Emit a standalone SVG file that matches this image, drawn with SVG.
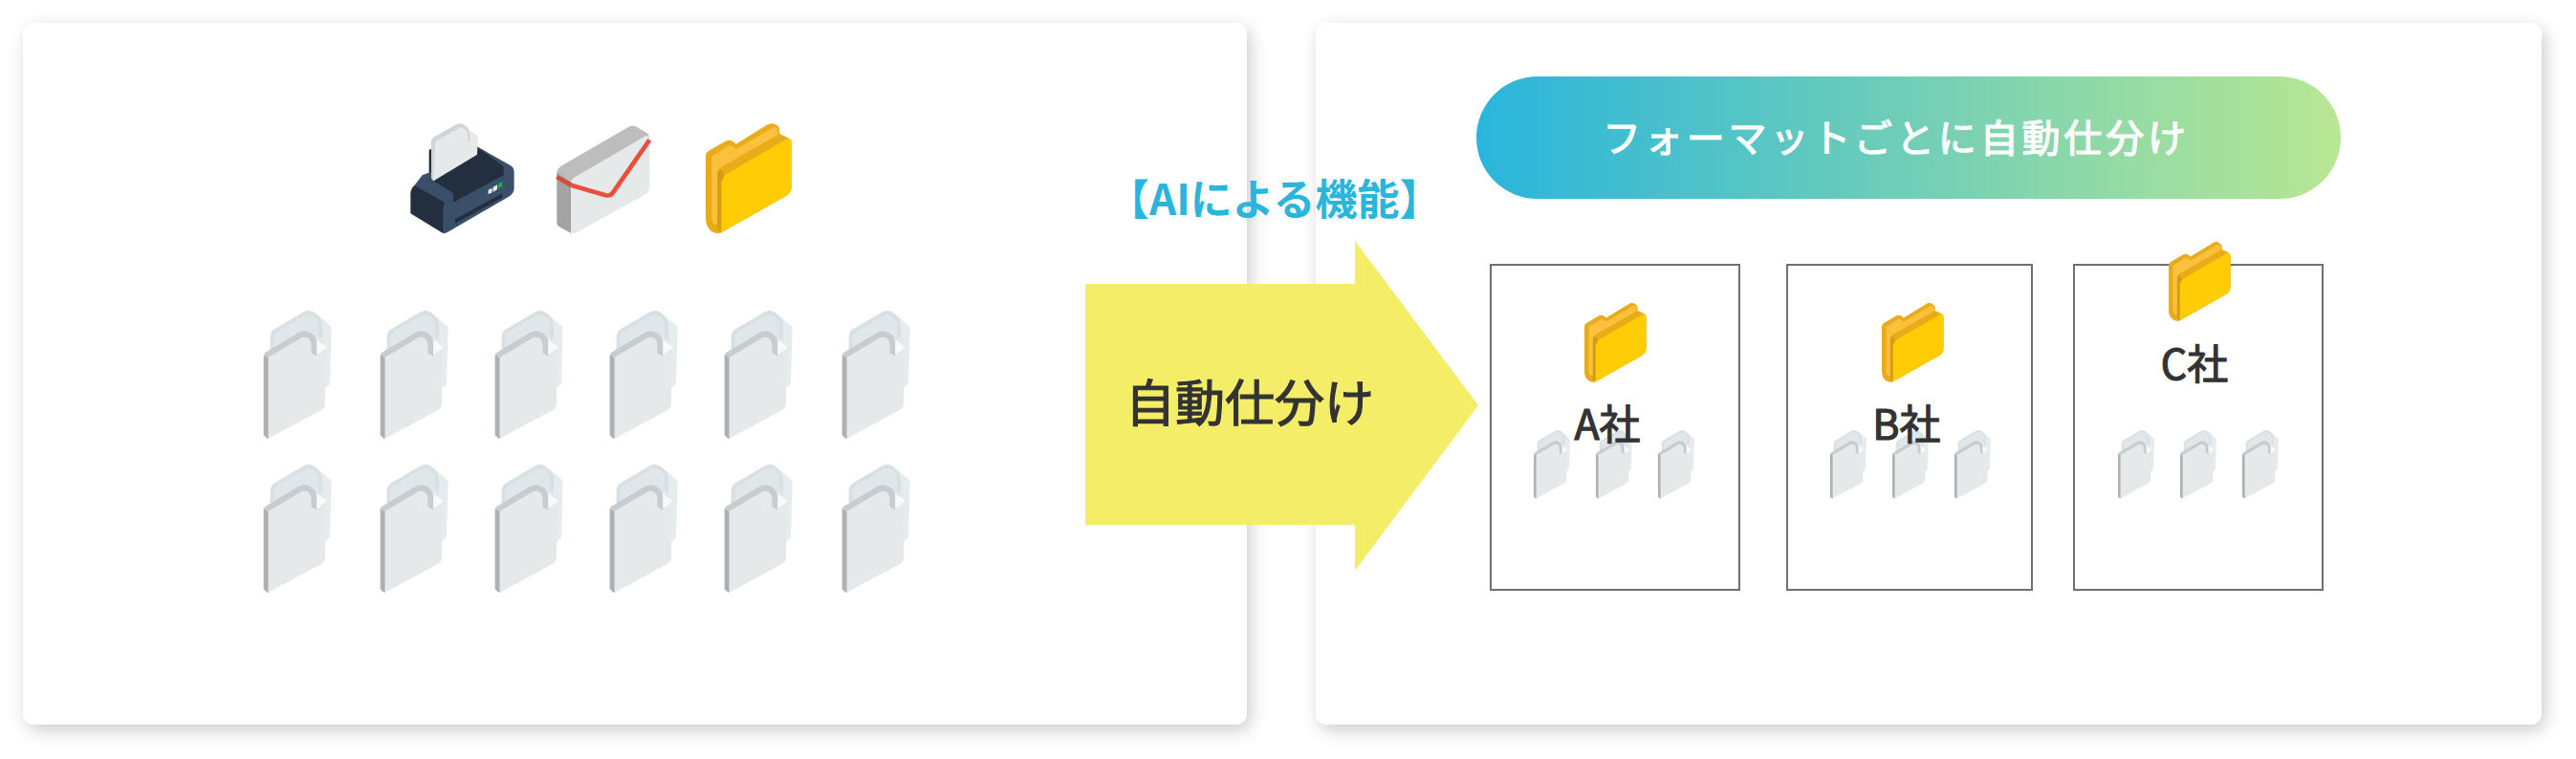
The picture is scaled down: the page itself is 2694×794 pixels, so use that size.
<svg xmlns="http://www.w3.org/2000/svg" width="2694" height="794" viewBox="0 0 2694 794">
<style>
text{font-family:"Noto Sans CJK JP","Noto Sans",sans-serif;font-weight:400;fill:#333;stroke:#333;stroke-width:1.2px}
.co{font-size:43px;text-anchor:middle}
.box{fill:none;stroke:#707070;stroke-width:2}
</style>
<defs>
<filter id="sh" x="-5%" y="-10%" width="110%" height="120%"><feDropShadow dx="4" dy="6" stdDeviation="9" flood-color="#000" flood-opacity=".2"/></filter>
<linearGradient id="pill" x1="0" x2="1" y1="0" y2="0"><stop offset="0" stop-color="#29b5dc"/><stop offset="1" stop-color="#b8e792"/></linearGradient>
<g id="doc">
<path fill="#e6ebee" d="M250 92L290 125L285 305L270 318L240 220Z"/>
<path fill="#e0e7ea" d="M98 160Q98 140 112 132L205 78Q218 72 232 78L250 92Q262 100 262 120V230L240 220L98 215Z"/>
<path fill="none" stroke="#d8e0e4" stroke-width="11" d="M104 195V155Q104 145 115 138L205 85Q218 78 232 85Q255 98 255 125V160"/>
<path fill="#c6ccd0" d="M78 215Q78 208 86 204L188 143Q205 134 222 143L232 150Q244 160 244 178V218L226 208V180Q226 165 212 158L92 222Z"/>
<path fill="#f8fafa" d="M244 165L276 190L244 214Z"/>
<path fill="#e5e9ea" d="M92 222L192 162Q206 154 218 164Q226 170 226 182V208L244 218L276 190L270 240V368Q270 380 258 387L92 476Z"/>
<path fill="#aeb1b3" d="M77 214L92 222V476H88L77 466Z"/>
</g>
<g id="folder">
<path fill="#e9ab17" d="M1013 190Q1013 178 1025 172L1075 143Q1088 137 1098 143L1108 152L1205 92Q1220 83 1235 92Q1245 98 1245 108V120L1270 132Q1282 138 1282 150V285Q1282 305 1265 315L1062 430Q1045 436 1030 425Q1013 410 1013 385Z"/>
<path fill="#fbc13c" d="M1032 190L1090 155L1108 168L1228 98Q1240 98 1240 110V122L1060 226Q1050 232 1050 245V400Q1045 410 1038 402Q1032 395 1032 380Z"/>
<path fill="#d39d17" d="M1050 245Q1050 235 1060 230L1072 250Q1066 256 1066 265V425L1060 430L1050 420Z"/>
<path fill="#ffcc05" d="M1068 262Q1068 252 1078 246L1268 136Q1282 130 1282 145V285Q1282 305 1265 315L1062 430V270Z"/>
</g>
</defs>
<rect width="2694" height="794" fill="#fff"/>
<g id="panel-left"><rect x="24" y="24" width="1280" height="734" rx="12" fill="#fff" filter="url(#sh)"/></g>
<g id="panel-right"><rect x="1376" y="24" width="1282" height="734" rx="12" fill="#fff" filter="url(#sh)"/></g>
<g id="printer" transform="translate(400,100) scale(.3333)">
<path fill="#232f3e" d="M146 170L160 165V262L146 250Z"/>
<path fill="#3a5068" d="M125 250L150 240L160 268L297 160L400 218Q413 225 413 240V290Q413 305 400 315L205 428Q195 434 190 432L100 282Z"/>
<path fill="#232f3e" d="M88 305Q90 290 100 282L195 335Q190 345 190 370V432L88 370Z"/>
<path fill="#232f3e" d="M160 268L297 186V162L380 222V250L222 335V306Z"/>
<path fill="#232f3e" d="M228 388L376 307V320L228 401Z"/>
<path fill="#e9ecee" d="M332 296L344 290V304L332 310Z"/><path fill="#e9ecee" d="M347 287L360 280V295L347 302Z"/>
<path fill="#1fae4b" d="M363 277L376 270V285L363 292Z"/>
<path fill="#cfd4d9" d="M153 145Q153 134 165 128L232 90Q245 84 258 92Q275 105 275 125V150L160 268L153 260Z"/>
<path fill="#e6e9ea" d="M165 152Q165 144 172 140L240 102Q252 98 262 108Q268 114 268 128V144L275 145V110L300 126L297 185L160 268Z"/>
</g>
<g id="mail" transform="translate(400,100) scale(.3333)">
<path fill="#bdbdbd" d="M547 240Q550 226 565 218L775 97Q785 92 795 97L825 115Q838 122 838 135L592 275Z"/>
<path fill="#a3a3a3" d="M547 240L592 272V432L555 412Q547 408 547 398Z"/>
<path fill="#e6e9ea" d="M592 272Q592 262 605 255L820 130Q838 120 838 135V285Q838 300 825 310L610 430Q598 436 592 430Z"/>
<path fill="none" stroke="#ea4f3c" stroke-width="14" d="M838 139L725 302Q716 316 700 313L592 281"/>
<path fill="none" stroke="#d64a3b" stroke-width="14" d="M547 255L592 281"/>
</g>
<g id="folder-main"><use href="#folder" transform="translate(738,129) scale(.3333) translate(-1013,-87)"/></g>
<g id="docs">
<use href="#doc" transform="translate(250,300) scale(.3333)"/><use href="#doc" transform="translate(372,300) scale(.3333)"/><use href="#doc" transform="translate(492,300) scale(.3333)"/><use href="#doc" transform="translate(612,300) scale(.3333)"/><use href="#doc" transform="translate(732,300) scale(.3333)"/><use href="#doc" transform="translate(855,300) scale(.3333)"/>
<use href="#doc" transform="translate(250,461) scale(.3333)"/><use href="#doc" transform="translate(372,461) scale(.3333)"/><use href="#doc" transform="translate(492,461) scale(.3333)"/><use href="#doc" transform="translate(612,461) scale(.3333)"/><use href="#doc" transform="translate(732,461) scale(.3333)"/><use href="#doc" transform="translate(855,461) scale(.3333)"/>
</g>
<g id="connectors"><path id="arrow" fill="#f4ed67" d="M1135 297H1417V252L1546 424L1417 597V549H1135Z"/></g>
<g id="arrow-label"><text x="1177" y="441" font-size="52">自動仕分け</text></g>
<g id="ai-label"><text x="1158" y="225" font-size="44" style="fill:#29b5dc;stroke:none;font-weight:700">【AIによる機能】</text></g>
<g id="header"><rect x="1544" y="80" width="904" height="128" rx="64" fill="url(#pill)"/><text x="1676" y="159" font-size="40" letter-spacing="3.85" style="fill:#fff;stroke:#fff">フォーマットごとに自動仕分け</text></g>
<g id="company-a"><rect class="box" x="1559" y="277" width="260" height="340"/>
<use href="#folder" transform="translate(1657,317) scale(.24) translate(-1013,-87)"/>
<use href="#doc" transform="translate(1604,450) scale(.178) translate(-77,-75)"/><use href="#doc" transform="translate(1669,450) scale(.178) translate(-77,-75)"/><use href="#doc" transform="translate(1734,450) scale(.178) translate(-77,-75)"/>
<text class="co" x="1681" y="460">A社</text></g>
<g id="company-b"><rect class="box" x="1869" y="277" width="256" height="340"/>
<use href="#folder" transform="translate(1968,317) scale(.24) translate(-1013,-87)"/>
<use href="#doc" transform="translate(1914,450) scale(.178) translate(-77,-75)"/><use href="#doc" transform="translate(1979,450) scale(.178) translate(-77,-75)"/><use href="#doc" transform="translate(2044,450) scale(.178) translate(-77,-75)"/>
<text class="co" x="1994" y="460">B社</text></g>
<g id="company-c"><rect class="box" x="2169" y="277" width="260" height="340"/>
<use href="#folder" transform="translate(2268,253) scale(.24) translate(-1013,-87)"/>
<use href="#doc" transform="translate(2215,450) scale(.178) translate(-77,-75)"/><use href="#doc" transform="translate(2280,450) scale(.178) translate(-77,-75)"/><use href="#doc" transform="translate(2345,450) scale(.178) translate(-77,-75)"/>
<text class="co" x="2295" y="397">C社</text></g>
</svg>
